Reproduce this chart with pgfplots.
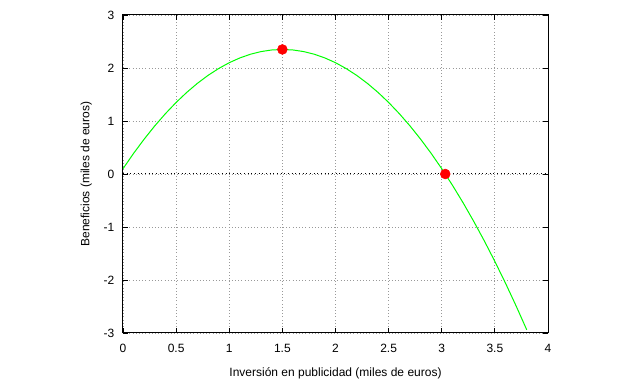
\documentclass[border=0pt]{standalone}
\usepackage{fontspec}
\setmainfont{Liberation Sans}
\usepackage{pgfplots}
\pgfplotsset{compat=1.18}
\begin{document}
\begin{tikzpicture}
\useasboundingbox (-92.25pt,-38.25pt) rectangle (387.75pt,249.75pt);
\begin{axis}[
  at={(0,0)}, anchor=south west,
  scale only axis,
  width=318.75pt, height=238.5pt,
  xmin=0, xmax=4, ymin=-3, ymax=3,
  xtick={0,0.5,...,4}, ytick={-3,-2,...,3},
  tick align=inside,
  major tick length=4pt,
  axis line style={line width=0.75pt},
  tick style={black, line width=0.6pt},
  grid=major,
  grid style={gray!80, dotted, line width=0.6pt},
  font=\fontsize{9}{11}\selectfont,
  tick label style={font=\fontsize{9}{11}\selectfont},
  /pgf/number format/assume math mode=true,
  xticklabel style={yshift=-5pt},
  yticklabel style={xshift=-3pt},
  xlabel={Inversión en publicidad (miles de euros)},
  ylabel={Beneficios (miles de euros)},
  xlabel style={yshift=-4pt},
  ylabel style={yshift=2pt},
  clip=true,
]
\addplot[black, dotted, line width=0.75pt] coordinates {(0,0) (4,0)};
\addplot[green, line width=0.75pt] coordinates {
(0,0.1) (0.1,0.39) (0.2,0.66) (0.3,0.91) (0.4,1.14) (0.5,1.35) (0.6,1.54) (0.7,1.71) (0.8,1.86) (0.9,1.99)
(1.0,2.1) (1.1,2.19) (1.2,2.26) (1.3,2.31) (1.4,2.34) (1.5,2.35) (1.6,2.34) (1.7,2.31) (1.8,2.26) (1.9,2.19)
(2.0,2.1) (2.1,1.99) (2.2,1.86) (2.3,1.71) (2.4,1.54) (2.5,1.35) (2.6,1.14) (2.7,0.91) (2.8,0.66) (2.9,0.39)
(3.0,0.1) (3.1,-0.21) (3.2,-0.54) (3.3,-0.89) (3.4,-1.26) (3.5,-1.65) (3.6,-2.06) (3.7,-2.49) (3.8,-2.94)
};
\addplot[only marks, mark=*, mark size=3.7pt, red, mark options={fill=red, draw=red}] coordinates {(1.5,2.35) (3.033,0)};
\end{axis}
\end{tikzpicture}
\end{document}
